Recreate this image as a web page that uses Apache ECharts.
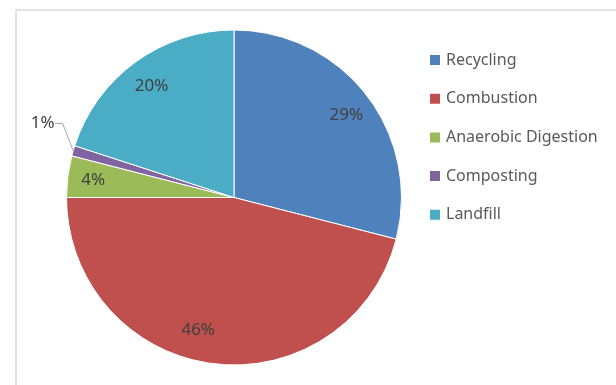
<!DOCTYPE html>
<html>
<head>
<meta charset="utf-8">
<script src="https://cdn.jsdelivr.net/npm/echarts@6/dist/echarts.min.js"></script>
<style>
  html, body { margin: 0; padding: 0; background: #fff; }
  #chart { width: 616px; height: 385px; }
</style>
</head>
<body>
<div id="chart"></div>
<script>
// Waste management shares (percent)
const categories = ['Recycling', 'Combustion', 'Anaerobic Digestion', 'Composting', 'Landfill'];
const shares = [29, 46, 4, 1, 20];
const colors = ['#4F81BD', '#C0504D', '#9BBB59', '#8064A2', '#4BACC6'];

// slices whose label sits outside with a leader line
const outsideLabels = ['Composting'];
// small hand nudges for individual labels
const labelNudge = {
  Recycling: { dx: 0, dy: 5 },
  Combustion: { dx: -18, dy: -8 },
  Landfill: { dx: 1, dy: 4 },
  Composting: { dx: 6, dy: -24 }
};

const CENTER = [234, 197.5];
const RADIUS = 167.5;

const sliceData = categories.map((name, i) => ({
  name,
  value: shares[i],
  itemStyle: { color: colors[i] }
}));

// Label carrier: a transparent ring over the pie so inside labels land near the rim
const labelData = categories.map((name, i) => {
  const outside = outsideLabels.includes(name);
  return {
    name,
    value: shares[i],
    label: outside ? { position: 'outside' } : { position: 'inside' },
    labelLine: { show: outside }
  };
});

const chart = echarts.init(document.getElementById('chart'), null, { renderer: 'canvas' });

chart.setOption({
  animation: false,
  color: colors,
  graphic: [{
    type: 'rect',
    silent: true,
    shape: { x: 16, y: 10, width: 700, height: 500 },
    style: { fill: 'none', stroke: '#d9d9d9', lineWidth: 1.5 }
  }],
  legend: {
    orient: 'vertical',
    left: 428,
    top: 52,
    padding: 0,
    icon: 'rect',
    itemWidth: 12,
    itemHeight: 12,
    itemGap: 22.7,
    data: categories,
    textStyle: { color: '#595959', fontSize: 16, fontFamily: 'Noto Sans', lineHeight: 16 }
  },
  series: [
    {
      type: 'pie',
      center: CENTER,
      radius: [0, RADIUS],
      startAngle: 90,
      clockwise: true,
      silent: true,
      label: { show: false },
      labelLine: { show: false },
      itemStyle: { borderColor: '#ffffff', borderWidth: 1 },
      data: sliceData
    },
    {
      type: 'pie',
      center: CENTER,
      radius: [RADIUS * 0.66, RADIUS],
      startAngle: 90,
      clockwise: true,
      silent: true,
      z: 3,
      itemStyle: { color: 'rgba(0,0,0,0)', borderWidth: 0 },
      label: {
        show: true,
        formatter: '{c}%',
        color: '#404040',
        fontSize: 17,
        fontFamily: 'Noto Sans'
      },
      labelLine: {
        length: 12,
        length2: 8,
        smooth: false,
        lineStyle: { color: '#a6a6a6', width: 1 }
      },
      labelLayout: function (params) {
        const name = categories[params.dataIndex];
        const n = labelNudge[name];
        if (!n) return {};
        if (outsideLabels.includes(name)) {
          // absolute placement so the leader line is re-routed to the moved label
          const r = params.labelRect;
          return { x: r.x + n.dx, y: r.y + n.dy, align: 'left', verticalAlign: 'top' };
        }
        return { dx: n.dx, dy: n.dy };
      },
      data: labelData
    }
  ]
});
</script>
</body>
</html>
